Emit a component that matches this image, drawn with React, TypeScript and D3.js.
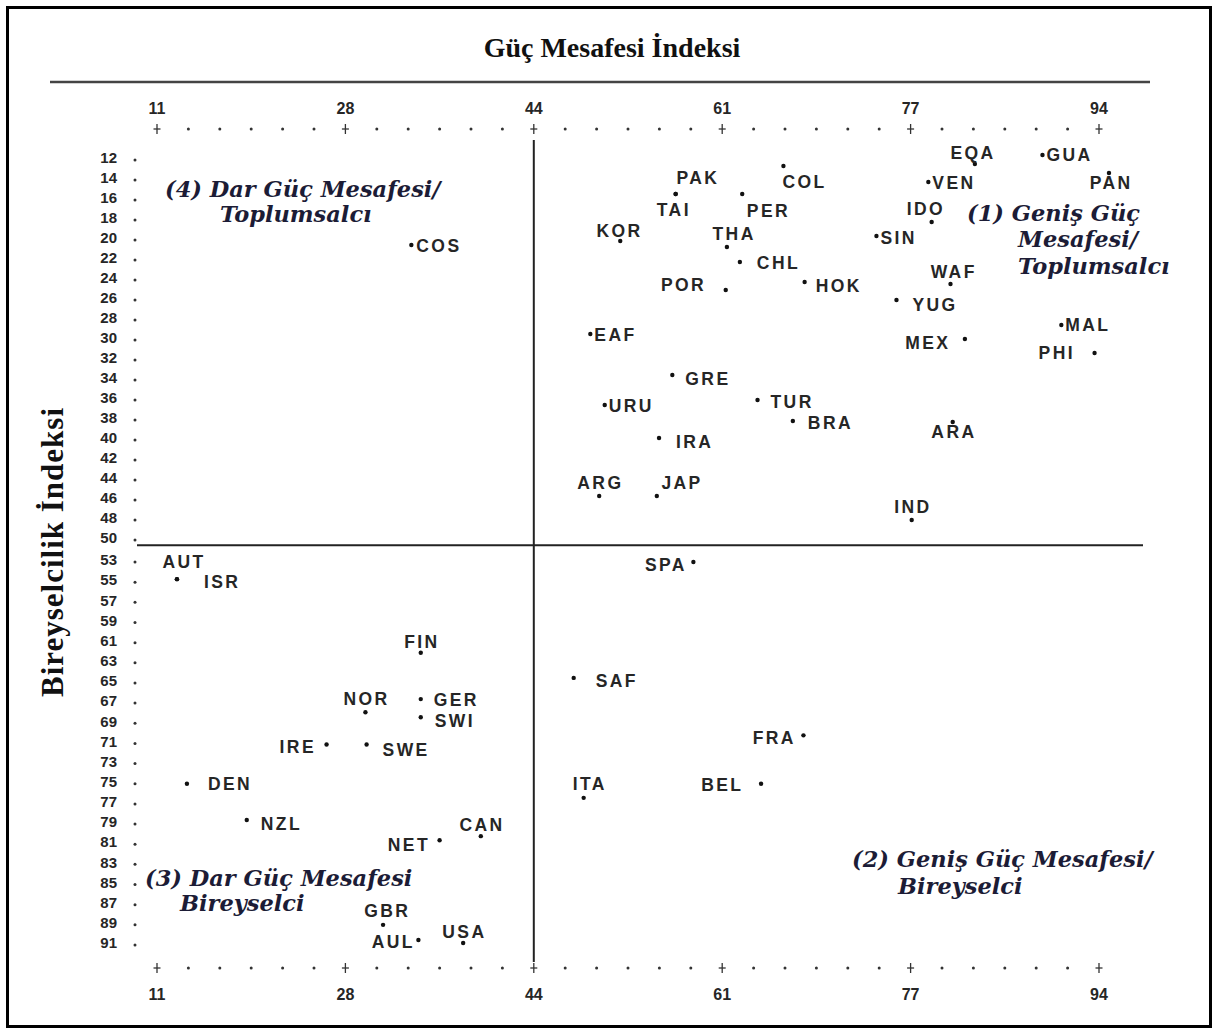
import React from "react";
import * as d3 from "d3";

const W = 1216;
const H = 1032;

// eksen etiketleri
const xTicks = [11, 28, 44, 61, 77, 94];
const yTicksTop = [12, 14, 16, 18, 20, 22, 24, 26, 28, 30, 32, 34, 36, 38, 40, 42, 44, 46, 48, 50];
const yTicksBottom = [53, 55, 57, 59, 61, 63, 65, 67, 69, 71, 73, 75, 77, 79, 81, 83, 85, 87, 89, 91];

// ülke kodları ve değerleri
const codes = [
  "EQA", "GUA", "COL", "PAK", "TAI", "VEN", "PAN", "PER", "IDO", "KOR",
  "THA", "SIN", "CHL", "WAF", "POR", "HOK", "YUG", "MAL", "EAF", "MEX",
  "PHI", "GRE", "URU", "TUR", "BRA", "ARA", "IRA", "ARG", "JAP", "IND",
  "COS",
  "AUT", "ISR", "SPA", "FIN", "NOR", "GER", "SWI", "IRE", "SWE", "DEN",
  "NZL", "NET", "CAN", "GBR", "AUL", "USA", "SAF", "FRA", "ITA", "BEL",
];
const powerDistance = [
  82.8, 88.9, 66.2, 56.8, 56.8, 78.6, 94.9, 62.7, 78.9, 51.8,
  61.4, 74.1, 62.5, 80.6, 61.3, 68.0, 75.8, 90.6, 49.1, 81.9,
  93.6, 56.5, 50.4, 64.0, 67.0, 80.8, 55.3, 49.9, 55.1, 77.1,
  33.6,
  12.8, 12.8, 58.4, 34.4, 29.7, 34.4, 34.4, 26.3, 29.8, 13.7,
  19.1, 36.0, 39.5, 31.2, 34.2, 38.0, 47.6, 67.9, 48.5, 64.3,
];
const individualism = [
  12.6, 11.7, 12.8, 15.6, 15.6, 14.4, 13.5, 15.6, 18.4, 20.3,
  20.9, 19.8, 22.4, 24.6, 25.2, 24.4, 26.2, 28.7, 29.6, 30.1,
  31.5, 33.7, 36.7, 36.2, 38.3, 38.4, 40.0, 45.8, 45.8, 48.2,
  20.7,
  54.9, 54.9, 53.2, 62.2, 68.1, 66.8, 68.6, 71.3, 71.3, 75.2,
  78.8, 80.8, 80.4, 89.2, 90.7, 91.0, 64.7, 70.4, 76.6, 75.2,
];

// etiket yerleşimi: [dx, dy, anchor]
const labelPos: Record<string, [number, number, string]> = {
  EQA: [-3, -11, "middle"], GUA: [4, 0, "start"], COL: [20, 16, "middle"],
  PAK: [21, -16, "middle"], TAI: [-3, 16, "middle"], VEN: [4, 1, "start"],
  PAN: [1, 10, "middle"], PER: [25, 17, "middle"], IDO: [-7, -13, "middle"],
  KOR: [-2, -10, "middle"], THA: [6, -13, "middle"], SIN: [4, 2, "start"],
  CHL: [17, 1, "start"], WAF: [2, -12, "middle"], POR: [-22, -5, "end"],
  HOK: [11, 4, "start"], YUG: [16, 5, "start"], MAL: [4, 0, "start"],
  EAF: [4, 1, "start"], MEX: [-17, 4, "end"], PHI: [-22, 0, "end"],
  GRE: [13, 4, "start"], URU: [4, 1, "start"], TUR: [13, 2, "start"],
  BRA: [15, 2, "start"], ARA: [0, 10, "middle"], IRA: [17, 4, "start"],
  ARG: [0, -13, "middle"], JAP: [24, -13, "middle"], IND: [0, -13, "middle"],
  COS: [5, 1, "start"],
  AUT: [6, -17, "middle"], ISR: [27, 3, "start"], SPA: [-9, 3, "end"],
  FIN: [0, -11, "middle"], NOR: [0, -13, "middle"], GER: [13, 1, "start"],
  SWI: [14, 3, "start"], IRE: [-13, 2, "end"], SWE: [16, 5, "start"],
  DEN: [21, 0, "start"], NZL: [14, 4, "start"], NET: [-12, 5, "end"],
  CAN: [0, -11, "middle"], GBR: [3, -14, "middle"], AUL: [-6, 2, "end"],
  USA: [0, -11, "middle"], SAF: [22, 3, "start"], FRA: [-10, 2, "end"],
  ITA: [5, -14, "middle"], BEL: [-20, 1, "end"],
};

const x = d3
  .scaleLinear()
  .domain(xTicks)
  .range(d3.range(xTicks.length).map((i) => 157 + i * 188.4));

const y = d3
  .scaleLinear()
  .domain([12, 50, 53, 91])
  .range([158, 538, 560, 943]);

const sans = "'Liberation Sans', Arial, sans-serif";
const serif = "'Liberation Serif', 'Times New Roman', serif";
const quadFont = "'DejaVu Serif', serif";
const ink = "#262626";
const quadInk = "#1c1c36";
const spacing = 2.4;

const Plus = ({ cx, cy }: { cx: number; cy: number }) => (
  <g stroke="#333" strokeWidth={1.3}>
    <line x1={cx} x2={cx} y1={cy - 5} y2={cy + 5} />
    <line x1={cx - 3.5} x2={cx + 3.5} y1={cy} y2={cy} />
  </g>
);

const XAxis = ({ tickY, labelY }: { tickY: number; labelY: number }) => {
  const minors: number[] = [];
  for (let i = 0; i < xTicks.length - 1; i++) {
    const a = x(xTicks[i]);
    const b = x(xTicks[i + 1]);
    for (let k = 1; k < 6; k++) minors.push(a + ((b - a) * k) / 6);
  }
  return (
    <g>
      {xTicks.map((t) => (
        <g key={t}>
          <Plus cx={x(t)} cy={tickY} />
          <text
            x={x(t)}
            y={labelY}
            textAnchor="middle"
            fontFamily={sans}
            fontWeight={700}
            fontSize={16}
            fill={ink}
          >
            {t}
          </text>
        </g>
      ))}
      {minors.map((m, i) => (
        <circle key={i} cx={m} cy={tickY} r={1.5} fill="#333" />
      ))}
    </g>
  );
};

const App = () => {
  const yTicks = [...yTicksTop, ...yTicksBottom];
  const splitY = (y(50) * 2 + y(53)) / 3;
  const x44 = x(44);

  return (
    <svg
      width={W}
      height={H}
      style={{ position: "absolute", left: 0, top: 0, background: "#fff" }}
    >
      <rect x={0} y={0} width={W} height={H} fill="#fff" />
      <rect x={7.5} y={7.5} width={1203} height={1019} fill="none" stroke="#000" strokeWidth={3} />

      {/* başlık */}
      <text
        x={612}
        y={57}
        textAnchor="middle"
        fontFamily={serif}
        fontWeight={700}
        fontSize={28}
        fill="#111"
      >
        Güç Mesafesi İndeksi
      </text>
      <line x1={50} x2={1150} y1={82} y2={82} stroke="#444" strokeWidth={2.5} />

      <text
        transform="translate(63,552) rotate(-90)"
        textAnchor="middle"
        fontFamily={serif}
        fontWeight={700}
        fontSize={31}
        letterSpacing={1}
        fill="#111"
      >
        Bireyselcilik İndeksi
      </text>

      <XAxis tickY={129} labelY={114} />
      <XAxis tickY={968} labelY={1000} />

      {/* y ekseni */}
      {yTicks.map((t) => (
        <g key={t}>
          <text
            x={117}
            y={y(t)}
            dy="0.35em"
            textAnchor="end"
            fontFamily={sans}
            fontWeight={700}
            fontSize={15}
            fill={ink}
          >
            {t}
          </text>
          <circle cx={135} cy={y(t) + 2} r={1.5} fill="#333" />
        </g>
      ))}

      {/* dörtlü ayrım çizgileri */}
      <line x1={137} x2={1143} y1={splitY} y2={splitY} stroke="#222" strokeWidth={2} />
      <line x1={x44} x2={x44} y1={140} y2={962} stroke="#222" strokeWidth={2} />

      {/* noktalar ve etiketler */}
      {codes.map((c, i) => {
        const px = x(powerDistance[i]);
        const py = y(individualism[i]);
        const [dx, dy, anchor] = labelPos[c];
        const shift = anchor === "end" ? spacing : anchor === "middle" ? spacing / 2 : 0;
        return (
          <g key={c}>
            <circle cx={px} cy={py} r={2.2} fill="#111" />
            <text
              x={px + dx + shift}
              y={py + dy}
              dy="0.36em"
              textAnchor={anchor}
              fontFamily={sans}
              fontWeight={700}
              fontSize={17.5}
              letterSpacing={spacing}
              fill={ink}
            >
              {c}
            </text>
          </g>
        );
      })}

      {/* dörtlü adları */}
      <g fontFamily={quadFont} fontWeight={700} fontStyle="italic" fontSize={22.5} fill={quadInk}>
        <text x={165} y={197}>(4)&#160;Dar Güç Mesafesi/</text>
        <text x={220} y={222}>Toplumsalcı</text>

        <text x={967} y={221}>(1)&#160;Geniş Güç</text>
        <text x={1018} y={247}>Mesafesi/</text>
        <text x={1018} y={274}>Toplumsalcı</text>

        <text x={145} y={886}>(3)&#160;Dar Güç Mesafesi</text>
        <text x={180} y={911}>Bireyselci</text>

        <text x={852} y={867}>(2)&#160;Geniş Güç Mesafesi/</text>
        <text x={898} y={894}>Bireyselci</text>
      </g>
    </svg>
  );
};

export default App;
